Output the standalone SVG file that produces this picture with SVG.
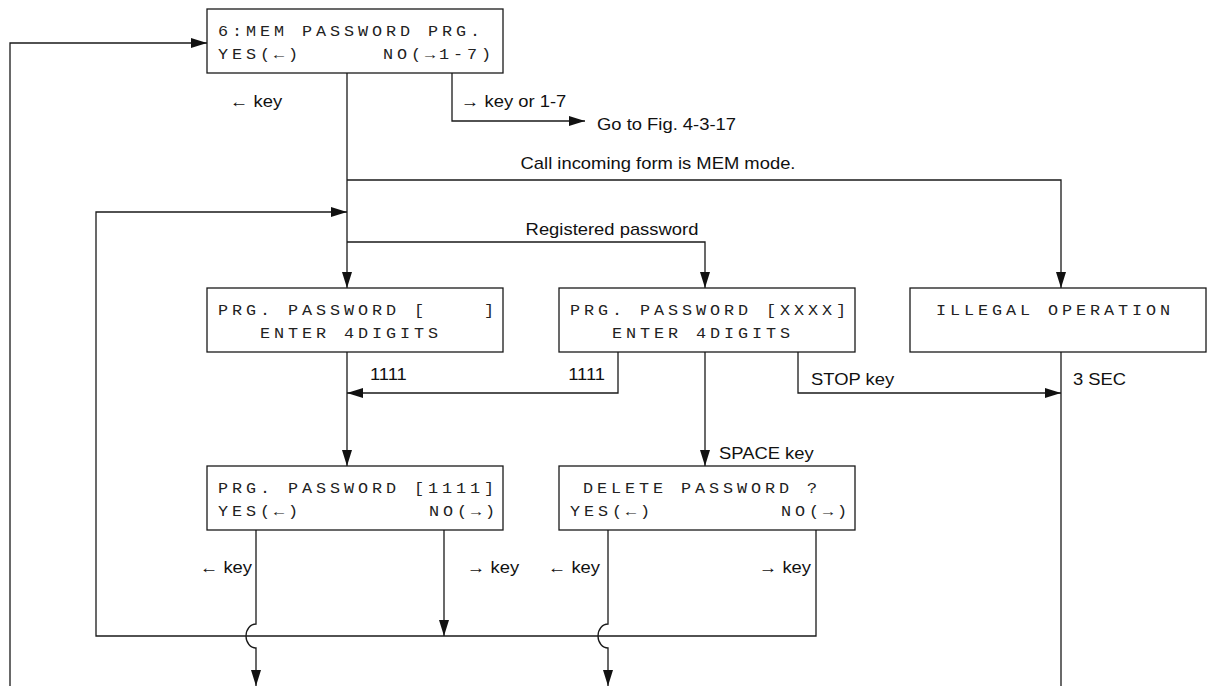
<svg xmlns="http://www.w3.org/2000/svg" width="1208" height="686" viewBox="0 0 1208 686">
<style>
.box{fill:#fff;stroke:#1a1a1a;stroke-width:1.3}
.lcd{font-family:"Liberation Mono","DejaVu Sans Mono",monospace;font-size:14px;letter-spacing:3.27px;fill:#222;white-space:pre}
.lbl{font-family:"Liberation Sans",Arial,sans-serif;font-size:16px;fill:#111}
.ln{fill:none;stroke:#1a1a1a;stroke-width:1.3}
</style>
<defs>
<marker id="ah" markerUnits="userSpaceOnUse" markerWidth="16" markerHeight="10" refX="16" refY="5" orient="auto">
<path d="M0,0 L16,5 L0,10 z" fill="#111"/>
</marker>
</defs>
<g id="connectors">
<path class="ln" d="M10,686 V43 H207" marker-end="url(#ah)"/>
<path class="ln" d="M347,73 V288" marker-end="url(#ah)"/>
<path class="ln" d="M452,73 V121 H585" marker-end="url(#ah)"/>
<path class="ln" d="M347,180 H1061 V288" marker-end="url(#ah)"/>
<path class="ln" d="M816,530 V636 H96 V212 H347" marker-end="url(#ah)"/>
<path class="ln" d="M347,242 H705 V288" marker-end="url(#ah)"/>
<path class="ln" d="M347,352 V466" marker-end="url(#ah)"/>
<path class="ln" d="M618,352 V393 H347" marker-end="url(#ah)"/>
<path class="ln" d="M705,352 V466" marker-end="url(#ah)"/>
<path class="ln" d="M798,352 V393 H1061" marker-end="url(#ah)"/>
<path class="ln" d="M1061,352 V686"/>
<path class="ln" d="M256,530 V624 A10,12 0 0 0 256,648 V686" marker-end="url(#ah)"/>
<path class="ln" d="M444,530 V636" marker-end="url(#ah)"/>
<path class="ln" d="M608,530 V624 A10,12 0 0 0 608,648 V686" marker-end="url(#ah)"/>
</g>
<g id="labels">
<text class="lbl" transform="translate(230,107) scale(1.15,1)">← key</text>
<text class="lbl" transform="translate(461,107) scale(1.15,1)">→ key or 1-7</text>
<text class="lbl" transform="translate(597,130) scale(1.15,1)">Go to Fig. 4-3-17</text>
<text class="lbl" transform="translate(658,169) scale(1.15,1)" text-anchor="middle">Call incoming form is MEM mode.</text>
<text class="lbl" transform="translate(612,235) scale(1.15,1)" text-anchor="middle">Registered password</text>
<text class="lbl" transform="translate(370,380) scale(1.15,1)">1111</text>
<text class="lbl" transform="translate(605,380) scale(1.15,1)" text-anchor="end">1111</text>
<text class="lbl" transform="translate(811,385) scale(1.15,1)">STOP key</text>
<text class="lbl" transform="translate(1073,385) scale(1.15,1)">3 SEC</text>
<text class="lbl" transform="translate(719,459) scale(1.15,1)">SPACE key</text>
<text class="lbl" transform="translate(252,573) scale(1.15,1)" text-anchor="end">← key</text>
<text class="lbl" transform="translate(467,573) scale(1.15,1)">→ key</text>
<text class="lbl" transform="translate(600,573) scale(1.15,1)" text-anchor="end">← key</text>
<text class="lbl" transform="translate(811,573) scale(1.15,1)" text-anchor="end">→ key</text>
</g>
<g id="mem-password-prg">
<rect class="box" x="207" y="9" width="296" height="64"/>
<text class="lcd" transform="translate(218,36) scale(1.2,1)">6:MEM PASSWORD PRG.</text>
<text class="lcd" transform="translate(218,59) scale(1.2,1)">YES(←)</text>
<text class="lcd" transform="translate(383,59) scale(1.2,1)">NO(→1-7)</text>
</g>
<g id="prg-password-empty">
<rect class="box" x="207" y="288" width="296" height="64"/>
<text class="lcd" transform="translate(218,315) scale(1.2,1)">PRG. PASSWORD [    ]</text>
<text class="lcd" transform="translate(260,338) scale(1.2,1)">ENTER 4DIGITS</text>
</g>
<g id="prg-password-xxxx">
<rect class="box" x="559" y="288" width="296" height="64"/>
<text class="lcd" transform="translate(570,315) scale(1.2,1)">PRG. PASSWORD [XXXX]</text>
<text class="lcd" transform="translate(612,338) scale(1.2,1)">ENTER 4DIGITS</text>
</g>
<g id="illegal-operation">
<rect class="box" x="910" y="288" width="296" height="64"/>
<text class="lcd" transform="translate(936,315) scale(1.2,1)">ILLEGAL OPERATION</text>
</g>
<g id="prg-password-1111">
<rect class="box" x="207" y="466" width="296" height="64"/>
<text class="lcd" transform="translate(218,493) scale(1.2,1)">PRG. PASSWORD [1111]</text>
<text class="lcd" transform="translate(218,516) scale(1.2,1)">YES(←)</text>
<text class="lcd" transform="translate(429,516) scale(1.2,1)">NO(→)</text>
</g>
<g id="delete-password">
<rect class="box" x="559" y="466" width="296" height="64"/>
<text class="lcd" transform="translate(583,493) scale(1.2,1)">DELETE PASSWORD ?</text>
<text class="lcd" transform="translate(570,516) scale(1.2,1)">YES(←)</text>
<text class="lcd" transform="translate(781,516) scale(1.2,1)">NO(→)</text>
</g>
</svg>
